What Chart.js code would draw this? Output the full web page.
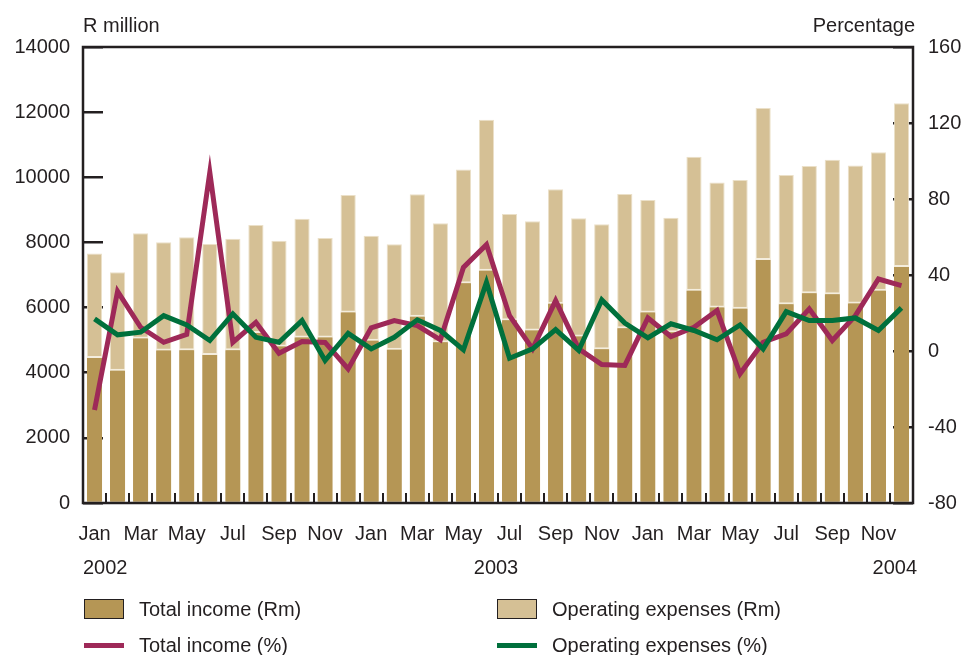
<!DOCTYPE html>
<html>
<head>
<meta charset="utf-8">
<script src="https://cdn.jsdelivr.net/npm/chart.js@4.4.0/dist/chart.umd.min.js"></script>
<style>
html,body{margin:0;padding:0;background:#fff;overflow:hidden}
#wrap{position:relative;width:964px;height:655px;font-family:"Liberation Sans",Arial,sans-serif;color:#231f20}
#myChart{position:absolute;left:0;top:0}
.key{position:absolute;font-size:20px;line-height:24px;white-space:nowrap}
.box{position:absolute;width:38px;height:18px;border:1px solid #231f20}
.ln{position:absolute;width:40px;height:5px}
</style>
</head>
<body>
<div id="wrap">
<canvas id="myChart" width="964" height="655"></canvas>
<div id="legenda"></div>
</div>
<script>
// meses jan/2002 - dez/2004
const meses = ['Jan','Feb','Mar','Apr','May','Jun','Jul','Aug','Sep','Oct','Nov','Dec',
               'Jan','Feb','Mar','Apr','May','Jun','Jul','Aug','Sep','Oct','Nov','Dec',
               'Jan','Feb','Mar','Apr','May','Jun','Jul','Aug','Sep','Oct','Nov','Dec'];
const anos = ['2002','2003','2004'];

// R million
const receitaRm = [4510,4125,5110,4740,4750,4605,4750,5280,4870,5145,5145,5910,
                   5040,4765,5780,5000,6810,7190,5670,5360,6180,5175,4780,5430,
                   5910,5300,6575,6065,6025,7520,6165,6500,6470,6190,6575,7310];
const despesasRm = [7660,7085,8285,8005,8157,7953,8110,8535,8055,8730,8137,9455,
                    8208,7943,9476,8585,10240,11770,8870,8647,9630,8740,8555,9485,
                    9302,8760,10630,9840,9915,12130,10070,10350,10540,10360,10770,12270];

// percentage
const receitaPct = [-31,31.4,12.5,4.6,8.7,94,4.6,15.1,-1.2,5,4.5,-9.4,
                    12.2,16,13.4,5.9,44,56,18.6,1.1,26.5,1.1,-7.1,-7.6,
                    17.4,7.6,12.5,21.3,-12,4.6,9,22.2,5.5,18.6,37.9,34.4];
const despesasPct = [16.9,8.5,9.9,18.6,13.7,5.5,19.5,7.2,4.6,16,-5,9.3,
                     1.1,7.2,16.4,10.8,0.6,36.1,-3.8,1.1,11.3,0.3,26.9,14.7,
                     6.9,14.3,10.8,5.9,13.7,1.1,20.7,16,16,17.4,10.8,22.7];

const corEscura = '#b59655';
const corClara = '#d5c095';
const corVinho = '#9e2958';
const corVerde = '#00703c';
const corTexto = '#231f20';
const fonte = {family: '"Liberation Sans", Arial, sans-serif', size: 20};

const moldura = {
    id: 'moldura',
    afterDraw(chart) {
        const ctx = chart.ctx;
        const a = chart.chartArea;
        ctx.save();
        ctx.strokeStyle = corTexto;
        ctx.lineWidth = 2.5;
        ctx.strokeRect(a.left, a.top, a.right - a.left, a.bottom - a.top);
        ctx.fillStyle = corTexto;
        ctx.font = '20px "Liberation Sans", Arial, sans-serif';
        ctx.textBaseline = 'middle';
        ctx.textAlign = 'left';
        ctx.fillText('R million', a.left, 26);
        ctx.fillText(anos[0], a.left, 568);
        ctx.textAlign = 'right';
        ctx.fillText('Percentage', a.right + 2, 26);
        ctx.fillText(anos[2], a.right + 4, 568);
        ctx.textAlign = 'center';
        ctx.fillText(anos[1], (a.left + a.right) / 2 - 2, 568);
        ctx.restore();
    }
};

const ctx = document.getElementById('myChart').getContext('2d');
const myChart = new Chart(ctx, {
    data: {
        labels: meses,
        datasets: [
            {type: 'bar', label: 'Total income (Rm)', data: receitaRm, yAxisID: 'y',
             backgroundColor: corEscura, borderColor: '#f4eddd',
             borderWidth: {top: 2, left: 0, right: 0, bottom: 0}, borderSkipped: 'start',
             grouped: false, order: 2, barPercentage: 0.66, categoryPercentage: 1},
            {type: 'bar', label: 'Operating expenses (Rm)', data: despesasRm, yAxisID: 'y',
             backgroundColor: corClara, borderColor: '#ebe0c8',
             borderWidth: {top: 1, left: 1, right: 1, bottom: 0}, borderSkipped: 'start',
             grouped: false, order: 3, barPercentage: 0.66, categoryPercentage: 1},
            {type: 'line', label: 'Total income (%)', data: receitaPct, yAxisID: 'y1',
             borderColor: corVinho, borderWidth: 5, pointRadius: 0, tension: 0, fill: false, order: 1},
            {type: 'line', label: 'Operating expenses (%)', data: despesasPct, yAxisID: 'y1',
             borderColor: corVerde, borderWidth: 5, pointRadius: 0, tension: 0, fill: false, order: 0}
        ]
    },
    options: {
        responsive: false,
        animation: false,
        devicePixelRatio: 1,
        layout: {padding: {top: 46, left: 0, right: 0, bottom: 0}},
        plugins: {legend: {display: false}, tooltip: {enabled: false}},
        scales: {
            x: {
                offset: true,
                grid: {offset: true, drawOnChartArea: false, tickLength: -10, color: corTexto, lineWidth: 2},
                border: {display: false},
                ticks: {autoSkip: false, maxRotation: 0, minRotation: 0, padding: 29, font: fonte, color: corTexto,
                        callback: function(v, i) { return i % 2 === 0 ? meses[i] : ''; }},
                afterFit: function(s) { s.height = 152; }
            },
            y: {
                position: 'left', min: 0, max: 14000,
                grid: {drawOnChartArea: false, tickLength: -20, color: corTexto, lineWidth: 2.5},
                border: {display: false},
                ticks: {stepSize: 2000, padding: 33, font: fonte, color: corTexto,
                        callback: function(v) { return String(v); }},
                afterFit: function(s) { s.width = 83; }
            },
            y1: {
                position: 'right', min: -80, max: 160,
                grid: {drawOnChartArea: false, tickLength: -20, color: corTexto, lineWidth: 2.5},
                border: {display: false},
                ticks: {stepSize: 40, padding: 35, font: fonte, color: corTexto,
                        callback: function(v) { return String(v); }},
                afterFit: function(s) { s.width = 51; }
            }
        }
    },
    plugins: [moldura]
});

// legenda em html, duas colunas
const legenda = document.getElementById('legenda');
const itens = [
    {txt: 'Total income (Rm)', cor: corEscura, tipo: 'box', x: 84, y: 599},
    {txt: 'Operating expenses (Rm)', cor: corClara, tipo: 'box', x: 497, y: 599},
    {txt: 'Total income (%)', cor: corVinho, tipo: 'ln', x: 84, y: 643},
    {txt: 'Operating expenses (%)', cor: corVerde, tipo: 'ln', x: 497, y: 643}
];
itens.forEach(function(it) {
    const m = document.createElement('div');
    m.className = it.tipo;
    m.style.left = it.x + 'px';
    m.style.top = it.y + 'px';
    m.style.background = it.cor;
    legenda.appendChild(m);
    const t = document.createElement('div');
    t.className = 'key';
    t.textContent = it.txt;
    t.style.left = (it.x + 55) + 'px';
    t.style.top = (it.tipo === 'box' ? it.y - 2 : it.y - 10) + 'px';
    legenda.appendChild(t);
});
</script>
</body>
</html>
